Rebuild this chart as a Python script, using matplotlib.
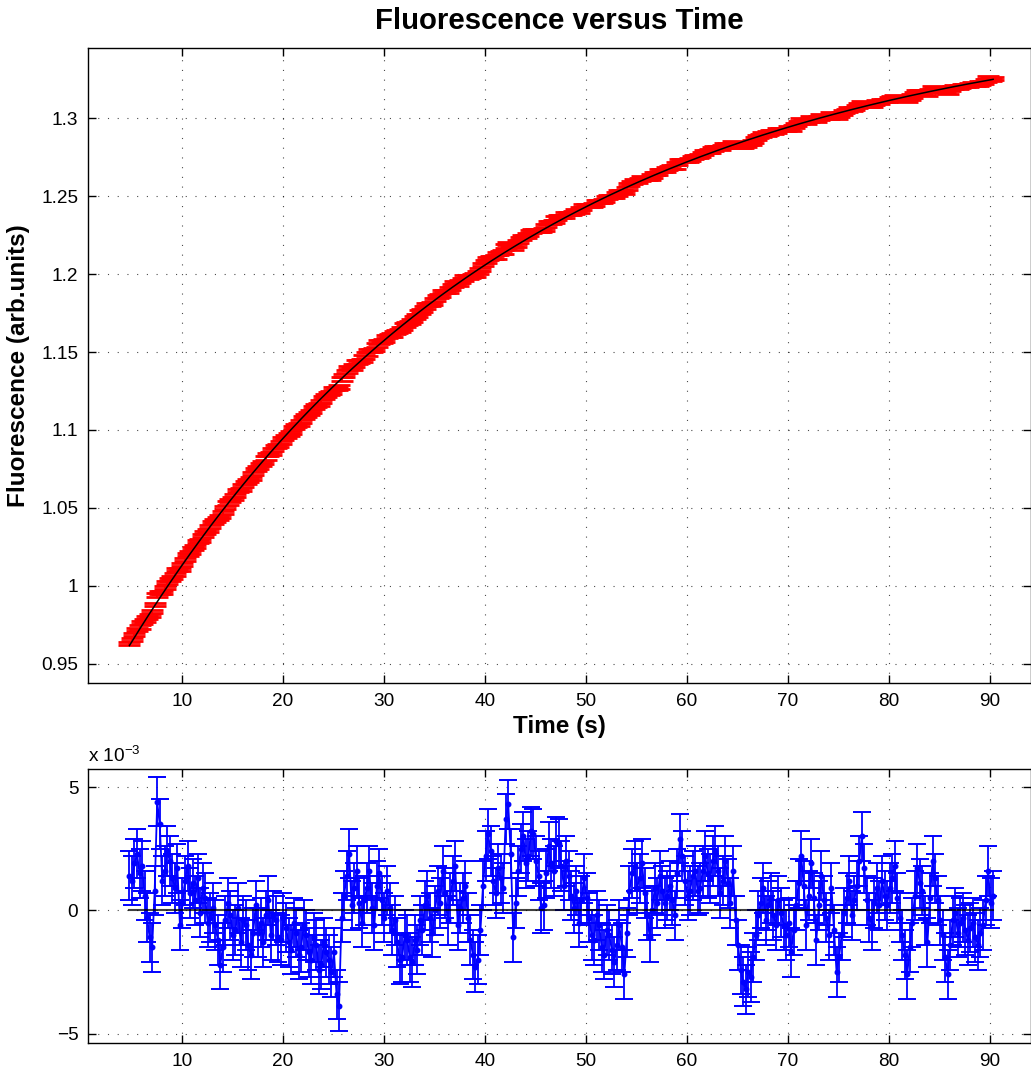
import numpy as np
import matplotlib
matplotlib.use("Agg")
import matplotlib.pyplot as plt

# ---------------- data ----------------
t_start = 4.8          # first sample time (s)
t_step = 0.25          # sampling interval used for the read-off values (s)

# residuals (units of 1e-3 arb. units)
resid = [
    1.4, 1.2, 1.9, 2.3, 1.5, 1.8, 0.6, -0.3, -1.1, -1.5,      # 4.8 - 7.05
    0.8, 4.4, 3.5, 1.2, 1.6, 2.4, 2.0, 1.3, 0.9, 1.7,         # 7.3 - 9.55
    -0.6, 0.3, 1.2, 1.8, 0.7, 1.1, 0.4, 1.3, -0.1, 0.9,       # 9.8 - 12.05
    0.5, -0.5, -0.3, 0.1, -0.6, -1.2, -2.2, -1.5, -0.4, 0.3,  # 12.3 - 14.55
    -0.2, -1.0, -0.8, 0.1, -1.3, -0.4, -0.6, -1.4, -1.8, -0.9,  # 14.8 - 17.05
    0.2, -0.9, -0.5, -1.3, -0.2, 0.4, -1.0, -0.2, -0.4, -1.1,  # 17.3 - 19.55
    -1.2, -0.3, -0.7, -1.3, -1.6, -0.5, -0.9, -1.8, -1.5, -0.6,  # 19.8 - 22.05
    -1.0, -1.7, -2.0, -1.1, -1.4, -2.4, -2.2, -1.3, -1.7, -2.0,  # 22.3 - 24.55
    -2.5, -1.7, -3.4, -3.9, -0.3, 0.6, 1.4, 2.3, 0.2, 0.9,    # 24.8 - 27.05
    1.6, 0.3, -0.5, 0.4, 0.9, 1.6, 0.1, -0.6, 1.0, 1.5,       # 27.3 - 29.55
    0.4, -0.3, 0.8, 0.1, -0.8, -0.4, -1.3, -2.0, -1.9, -1.0,  # 29.8 - 32.05
    -1.2, -1.9, -2.1, -1.2, -1.6, -0.4, -0.8, 0.2, 0.6, -0.3,  # 32.3 - 34.55
    -0.9, 0.0, 0.8, 0.3, 1.6, 0.7, -0.4, 0.5, 1.2, 1.8,       # 34.8 - 37.05
    -0.6, 0.1, 0.5, 1.0, -0.3, -1.2, -1.8, -2.3, -2.0, -0.8,  # 37.3 - 39.55
    1.0, 2.2, 3.1, 2.4, 1.2, 0.7, 1.7, 1.3, 0.9, 3.7,         # 39.8 - 42.05
    4.3, 2.3, -1.1, 0.3, 1.6, 2.5, 3.0, 1.9, 2.2, 3.2,        # 42.3 - 44.55
    3.1, 2.0, 1.4, 0.1, 0.2, 1.5, 2.6, 1.9, 1.6, 2.8,         # 44.8 - 47.05
    2.7, 1.8, 1.0, 2.0, 1.4, 0.6, 0.1, 0.8, -0.5, 0.4,        # 47.3 - 49.55
    1.3, 0.5, -0.3, -1.0, -1.2, -0.2, -0.6, -1.5, -1.8, -0.8,  # 49.8 - 52.05
    -1.0, -1.6, -2.1, -1.4, -0.6, -1.5, -2.6, -0.9, 0.8, 1.5,  # 52.3 - 54.55
    1.8, 0.9, 1.3, 1.9, 0.7, -0.2, -1.1, 0.0, 0.9, 0.3,       # 54.8 - 57.05
    1.4, 0.8, 0.3, 0.6, 1.0, 0.4, -0.2, 1.5, 2.9, 2.2,        # 57.3 - 59.55
    1.2, 0.6, 0.8, 1.4, 1.6, 0.8, 0.9, 1.6, 2.2, 1.5,         # 59.8 - 62.05
    1.3, 2.0, 2.4, 1.6, 0.7, 1.2, 2.0, 1.1, 0.3, 1.6,         # 62.3 - 64.55
    -0.4, -1.4, -2.4, -2.9, -3.2, -2.5, -2.7, -1.9, -1.0, -0.2,  # 64.8 - 67.05
    0.3, 0.9, -0.4, 0.2, 0.5, -0.2, -0.6, 0.4, -0.1, -0.6,    # 67.3 - 69.55
    -1.0, -0.5, -1.7, -0.8, 0.2, 1.1, 2.2, 1.0, -0.6, 0.6,    # 69.8 - 72.05
    1.9, 0.5, -1.2, 0.2, 1.4, 0.4, -0.3, -1.0, 0.9, -0.8,     # 72.3 - 74.55
    -2.5, -1.9, -1.0, -0.1, 0.5, 1.2, -0.2, 0.4, 1.0, 2.0,    # 74.8 - 77.05
    3.0, 1.7, 0.4, -0.3, -0.6, 0.3, 0.9, 0.2, 1.2, 0.6,       # 77.3 - 79.55
    0.2, 0.9, 1.3, 1.8, 0.5, -0.3, -1.0, -1.8, -2.6, -1.5,    # 79.8 - 82.05
    -0.5, 0.6, 1.7, 1.1, 0.8, -0.4, -1.3, 0.5, 2.0, 1.3,      # 82.3 - 84.55
    0.4, -0.4, -1.0, -1.9, -2.6, -1.4, -0.4, -0.1, -0.9, -0.5,  # 84.8 - 87.05
    -0.3, -0.8, -1.2, -0.7, -0.5, -1.1, -1.4, -0.9, -0.6, 0.4,  # 87.3 - 89.55
    1.6, 0.3, 0.6,                                             # 89.8 - 90.3
]
err = 1.0                      # error bar half-length (1e-3 arb. units)

# exponential fit: F = A - B*exp(-t/tau)
fit_A = 1.369
fit_B = 0.4613
fit_tau = 38.5

y_ticks_top = [0.95, 1.0, 1.05, 1.1, 1.15, 1.2, 1.25, 1.3]
y_ticklabels_top = ["0.95", "1", "1.05", "1.1", "1.15", "1.2", "1.25", "1.3"]
x_ticks = [10, 20, 30, 40, 50, 60, 70, 80, 90]
y_ticks_bot = [-5, 0, 5]

title = "Fluorescence versus Time"
xlabel = "Time (s)"
ylabel = "Fluorescence (arb.units)"

# ---------------- derived ----------------
resid = np.array(resid)
t = t_start + t_step * np.arange(len(resid))
fit = fit_A - fit_B * np.exp(-t / fit_tau)
fluor = fit + resid * 1e-3

# ---------------- style ----------------
plt.rcParams['font.family'] = ['Liberation Sans', 'DejaVu Sans']
plt.rcParams['mathtext.fontset'] = 'custom'
plt.rcParams['mathtext.rm'] = 'Liberation Sans'
plt.rcParams['mathtext.it'] = 'Liberation Sans'
plt.rcParams['lines.scale_dashes'] = False

W, H = 1031, 1076
fig = plt.figure(figsize=(W / 100, H / 100), dpi=100)

def px_axes(left, top, right, bottom):
    return fig.add_axes([left / W, 1 - bottom / H, (right - left) / W, (bottom - top) / H])

ax1 = px_axes(88, 48, 1030.5, 683)
ax2 = px_axes(88, 769, 1030.5, 1043)

grid_kw = dict(color='black', linestyle=(0, (0.8, 6.2)), linewidth=0.8, alpha=0.7)
for ax in (ax1, ax2):
    ax.tick_params(direction='in', length=6, width=1, top=True, right=True,
                   labelsize=13.7, pad=7)
    for s in ax.spines.values():
        s.set_linewidth(1.0)
    ax.grid(True, **grid_kw)
    ax.set_axisbelow(True)
    ax.set_xlim(0.7, 94.0)
    ax.set_xticks(x_ticks)

# upper panel
ax1.errorbar(t, fluor, yerr=err * 1e-3, fmt='none', ecolor='red',
             elinewidth=1.5, capsize=8, capthick=2.0, zorder=2)
ax1.plot(t, fit, color='black', linewidth=1.1, zorder=3)
ax1.set_ylim(0.9378, 1.3449)
ax1.set_yticks(y_ticks_top)
ax1.set_yticklabels(y_ticklabels_top)
ax1.set_title(title, fontsize=21.2, fontweight='bold', pad=14)
ax1.set_xlabel(xlabel, fontsize=17.5, fontweight='bold', labelpad=4)
ax1.set_ylabel(ylabel, fontsize=17.5, fontweight='bold', labelpad=8)

# lower panel
ax2.errorbar(t, resid, yerr=err, fmt='.-', color='blue', ecolor='blue',
             markersize=6.5, linewidth=1.3, elinewidth=1.3, capsize=6.3,
             capthick=1.4, zorder=2)
ax2.plot([t[0], t[-1]], [0, 0], color='black', linewidth=1.5, zorder=3, alpha=0.75)
ax2.set_ylim(-5.38, 5.73)
ax2.set_yticks(y_ticks_bot)
fig.text(88 / W, 1 - 762 / H, r'x 10$^{-3}$', fontsize=13.7, ha='left', va='baseline')

fig.savefig('out.png', dpi=100)
